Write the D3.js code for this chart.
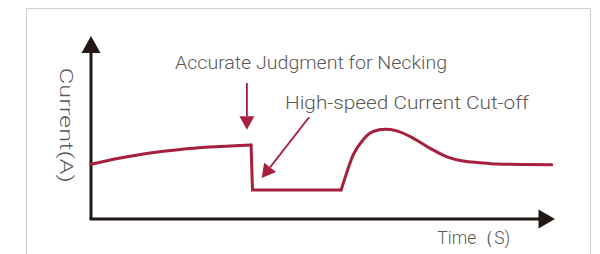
<!DOCTYPE html>
<html>
<head>
<meta charset="utf-8">
<script src="https://cdn.jsdelivr.net/npm/d3@7"></script>
<style>
  html, body { margin: 0; padding: 0; background: #fff; }
  svg { display: block; }
  text { font-family: Roboto, "Liberation Sans", sans-serif; font-weight: 300; fill: #595757; }
</style>
</head>
<body>
<svg id="chart"></svg>
<script>
const svgWidth = 600;
const svgHeight = 254;
const red = "#a61f3d";
const ink = "#231815";

// welding current waveform (time, current) in arbitrary units 0..100
const preTime = [0, 6.3, 12.7, 19.2, 25.6, 32.1, 34.5];
const preCurrent = [29.9, 33.3, 36.1, 38.0, 39.3, 40.2, 40.4];
const cutTime = [34.5, 34.8, 53.9];
const cutCurrent = [40.4, 15.8, 15.8];
const recTime = [53.9, 55.0, 56.5, 58.7, 60.8, 63.4, 65.7, 69.5, 73.1, 76.7, 80.2, 83.8, 87.4, 93.0, 99.3];
const recCurrent = [15.8, 24.5, 35.0, 43.5, 47.8, 49.0, 48.3, 44.1, 38.6, 34.0, 31.7, 30.8, 30.1, 29.8, 29.7];

// annotation arrows: [x1, y1, x2 (tip), y2 (tip)]
const arrowJudge = [33.6, 74.3, 33.6, 48.8];
const arrowCut = [47.0, 55.6, 36.8, 22.4];

const labelJudge = "Accurate Judgment for Necking";
const labelCut = "High-speed Current Cut-off";
const labelX = "Time（S)";
const labelY = "Current(A)";

const svg = d3.select("#chart")
  .attr("width", svgWidth)
  .attr("height", svgHeight);

let x = d3.scaleLinear().domain([0, 100]).range([91, 555]);
let y = d3.scaleLinear().domain([0, 100]).range([219, 36]);

// frame
svg.append("path")
  .attr("d", "M26.5,260V8.5H590.5V260")
  .attr("fill", "none")
  .attr("stroke", "#cfcfcf")
  .attr("stroke-width", 1);

// axes with arrowheads
svg.append("line")
  .attr("x1", x(0)).attr("y1", y(0))
  .attr("x2", x(0)).attr("y2", y(100) + 10)
  .attr("stroke", ink).attr("stroke-width", 3);
svg.append("line")
  .attr("x1", x(0) - 1.5).attr("y1", y(0))
  .attr("x2", x(100) - 10).attr("y2", y(0))
  .attr("stroke", ink).attr("stroke-width", 3);
svg.append("path")
  .attr("d", `M${x(0)},${y(100)}L${x(0) + 9.5},${y(100) + 17}L${x(0) - 9.5},${y(100) + 17}Z`)
  .attr("fill", ink);
svg.append("path")
  .attr("d", `M${x(100)},${y(0)}L${x(100) - 16.5},${y(0) - 9.5}L${x(100) - 16.5},${y(0) + 9.5}Z`)
  .attr("fill", ink);

// waveform
const line = d3.line()
  .x(d => x(d[0]))
  .y(d => y(d[1]));

const segments = [
  { pts: d3.zip(preTime, preCurrent), curve: d3.curveMonotoneX },
  { pts: d3.zip(cutTime, cutCurrent), curve: d3.curveLinear },
  { pts: d3.zip(recTime, recCurrent), curve: d3.curveMonotoneX }
];

segments.forEach(s => {
  svg.append("path")
    .datum(s.pts)
    .attr("fill", "none")
    .attr("stroke", red)
    .attr("stroke-width", 3)
    .attr("stroke-linejoin", "miter")
    .attr("stroke-linecap", "round")
    .attr("d", line.curve(s.curve));
});

// annotation arrows
const drawArrow = (a) => {
  let x1 = x(a[0]), y1 = y(a[1]), x2 = x(a[2]), y2 = y(a[3]);
  let ang = Math.atan2(y2 - y1, x2 - x1);
  let len = 13.5, half = 7.5;
  let bx = x2 - len * Math.cos(ang), by = y2 - len * Math.sin(ang);
  let px = -Math.sin(ang) * half, py = Math.cos(ang) * half;
  svg.append("line")
    .attr("x1", x1).attr("y1", y1)
    .attr("x2", bx).attr("y2", by)
    .attr("stroke", red).attr("stroke-width", 1.8);
  svg.append("path")
    .attr("d", `M${x2},${y2}L${bx + px},${by + py}L${bx - px},${by - py}Z`)
    .attr("fill", red);
};
drawArrow(arrowJudge);
drawArrow(arrowCut);

// texts
svg.append("text")
  .attr("x", 175).attr("y", 68.7)
  .attr("font-size", 18.5)
  .attr("textLength", 272).attr("lengthAdjust", "spacingAndGlyphs")
  .text(labelJudge);

svg.append("text")
  .attr("x", 285).attr("y", 108.7)
  .attr("font-size", 18.5)
  .attr("textLength", 244).attr("lengthAdjust", "spacingAndGlyphs")
  .text(labelCut);

svg.append("text")
  .attr("x", 437.3).attr("y", 244.3)
  .attr("font-size", 18.5)
  .attr("textLength", 73).attr("lengthAdjust", "spacingAndGlyphs")
  .text(labelX);

svg.append("text")
  .attr("transform", "translate(60,67.7) rotate(90)")
  .attr("font-size", 18.5)
  .attr("textLength", 115).attr("lengthAdjust", "spacingAndGlyphs")
  .text(labelY);
</script>
</body>
</html>
